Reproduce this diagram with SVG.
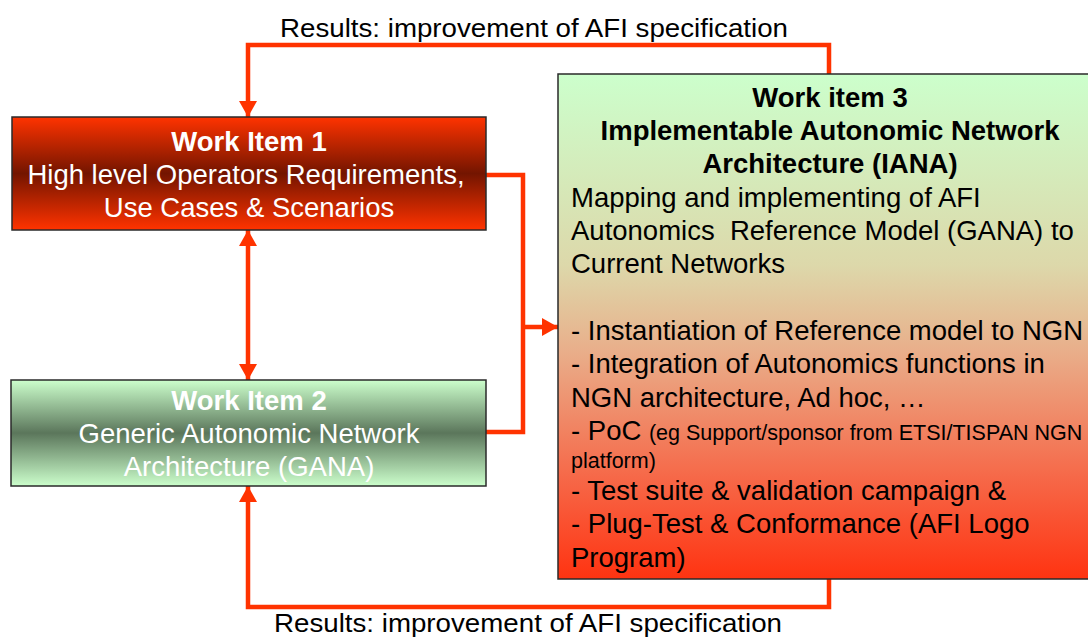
<svg xmlns="http://www.w3.org/2000/svg" width="1088" height="637" viewBox="0 0 1088 637">
<style>
text{font-family:"Liberation Sans",Arial,sans-serif}
.box{stroke:#2a2a2a;stroke-width:1.5}
.w{fill:#ffffff;font-size:27.5px;text-anchor:middle}
.b{fill:#000000;font-size:27.5px}
.bc{text-anchor:middle;font-weight:bold}
.bold{font-weight:bold}
.sm{font-size:21.5px}
.lbl{fill:#000000;font-size:25px}
.conn{fill:none;stroke:#ff3300;stroke-width:4.5;stroke-linejoin:miter}
</style>
<defs>
<linearGradient id="g1" x1="0" y1="0" x2="0" y2="1">
<stop offset="0" stop-color="#ff3300"/>
<stop offset="0.5" stop-color="#731500"/>
<stop offset="1" stop-color="#ff3300"/>
</linearGradient>
<linearGradient id="g2" x1="0" y1="0" x2="0" y2="1">
<stop offset="0" stop-color="#ccffcc"/>
<stop offset="0.5" stop-color="#5b765b"/>
<stop offset="1" stop-color="#ccffcc"/>
</linearGradient>
<linearGradient id="g3" x1="0" y1="0" x2="0" y2="1">
<stop offset="0" stop-color="#ccffcc"/>
<stop offset="0.38" stop-color="#ddd8aa"/>
<stop offset="0.55" stop-color="#e9ae8a"/>
<stop offset="0.8" stop-color="#f66848"/>
<stop offset="1" stop-color="#ff3311"/>
</linearGradient>
<marker id="ah" viewBox="0 0 16 18" refX="16" refY="9" markerWidth="16" markerHeight="18" markerUnits="userSpaceOnUse" orient="auto-start-reverse">
<path d="M0,0 L16,9 L0,18 z" fill="#ff3300"/>
</marker>
</defs>

<g id="connectors">
<path class="conn" d="M829,74 V45 H248 V117" marker-end="url(#ah)"/>
<path class="conn" d="M829,579 V607 H248 V486" marker-end="url(#ah)"/>
<path class="conn" d="M248,230 V380" marker-start="url(#ah)" marker-end="url(#ah)"/>
<path class="conn" d="M486,175 H523 V432 H486"/>
<path class="conn" d="M523,327 H558" marker-end="url(#ah)"/>
</g>

<g id="label-top">
<text class="lbl" x="280" y="37" textLength="508" lengthAdjust="spacingAndGlyphs">Results: improvement of AFI specification</text>
</g>
<g id="label-bottom">
<text class="lbl" x="274" y="632" textLength="508" lengthAdjust="spacingAndGlyphs">Results: improvement of AFI specification</text>
</g>

<g id="work-item-1">
<rect class="box" x="12" y="117" width="474" height="113" fill="url(#g1)"/>
<text class="w bold" x="249" y="151">Work Item 1</text>
<text class="w" x="246" y="184">High level Operators Requirements,</text>
<text class="w" x="249" y="217">Use Cases &amp; Scenarios</text>
</g>

<g id="work-item-2">
<rect class="box" x="11" y="380" width="475" height="106" fill="url(#g2)"/>
<text class="w bold" x="249" y="410">Work Item 2</text>
<text class="w" x="249" y="443">Generic Autonomic Network</text>
<text class="w" x="249" y="476">Architecture (GANA)</text>
</g>

<g id="work-item-3">
<rect class="box" x="558" y="74" width="546" height="505" fill="url(#g3)"/>
<text class="b bc" x="830" y="107">Work item 3</text>
<text class="b bc" x="830" y="140">Implementable Autonomic Network</text>
<text class="b bc" x="830" y="173">Architecture (IANA)</text>
<text class="b" x="571" y="207">Mapping and implementing of AFI</text>
<text class="b" x="571" y="240" xml:space="preserve">Autonomics  Reference Model (GANA) to</text>
<text class="b" x="571" y="273">Current Networks</text>
<text class="b" x="571" y="340">- Instantiation of Reference model to NGN</text>
<text class="b" x="571" y="373">- Integration of Autonomics functions in</text>
<text class="b" x="571" y="407">NGN architecture, Ad hoc, …</text>
<text class="b" x="571" y="440">- PoC <tspan class="sm">(eg Support/sponsor from ETSI/TISPAN NGN</tspan></text>
<text class="b sm" x="571" y="468">platform)</text>
<text class="b" x="571" y="500">- Test suite &amp; validation campaign &amp;</text>
<text class="b" x="571" y="533">- Plug-Test &amp; Conformance (AFI Logo</text>
<text class="b" x="571" y="567">Program)</text>
</g>
</svg>
